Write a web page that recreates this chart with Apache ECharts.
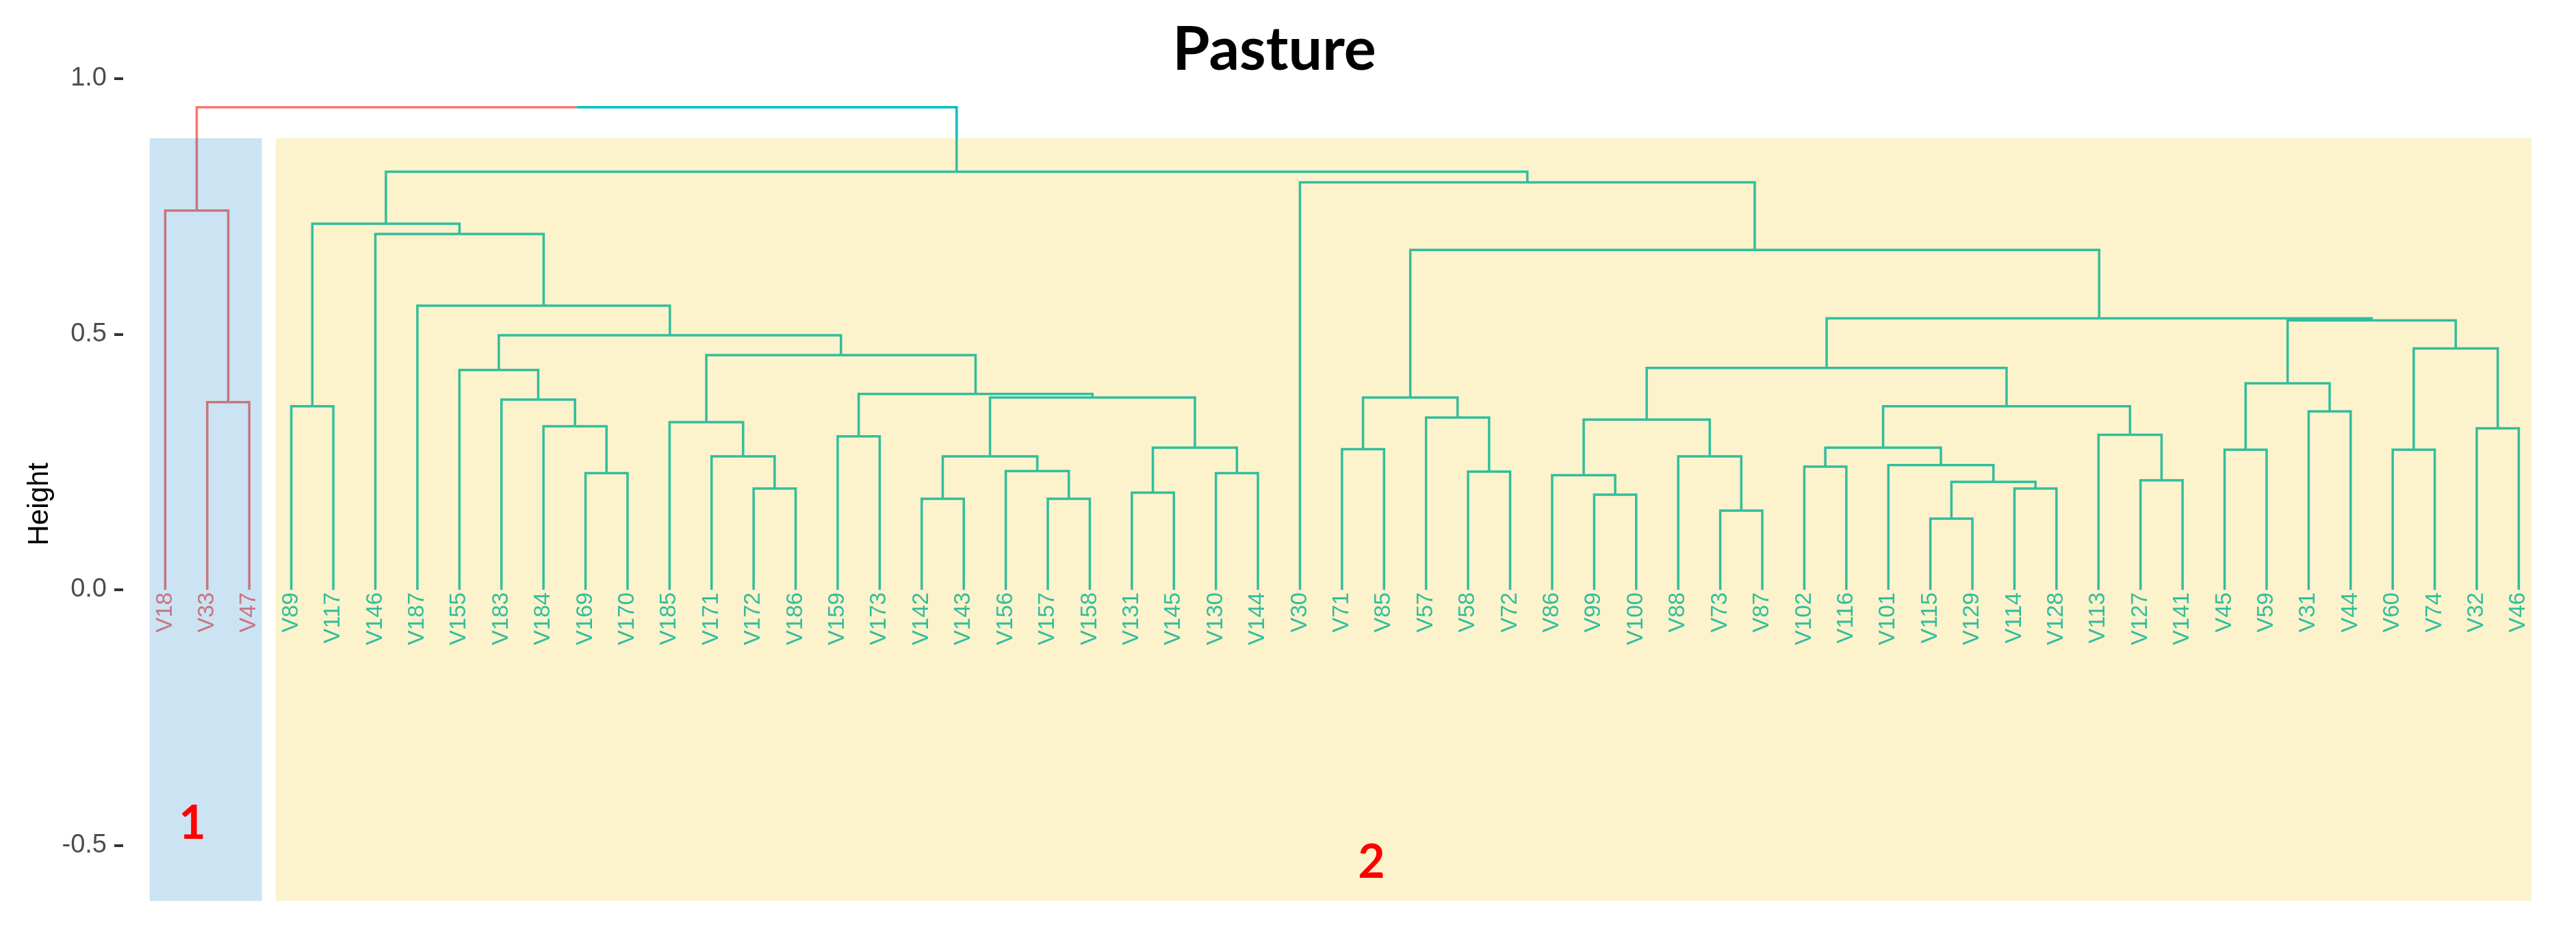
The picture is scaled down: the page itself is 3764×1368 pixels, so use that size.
<!DOCTYPE html>
<html><head><meta charset="utf-8">
<script src="https://cdn.jsdelivr.net/npm/echarts@6/dist/echarts.min.js"></script>
<style>html,body{margin:0;padding:0;background:#fff}#chart{width:3764px;height:1368px}</style>
</head><body><div id="chart"></div>
<script>
// ---- data ----
const leafLabels = ['V18','V33','V47','V89','V117','V146','V187','V155','V183','V184','V169','V170','V185','V171','V172','V186','V159','V173','V142','V143','V156','V157','V158','V131','V145','V130','V144','V30','V71','V85','V57','V58','V72','V86','V99','V100','V88','V73','V87','V102','V116','V101','V115','V129','V114','V128','V113','V127','V141','V45','V59','V31','V44','V60','V74','V32','V46'];
// hclust-style merges: negative = leaf index (1-based, in display order), positive = earlier merge row (1-based)
const mergeLeft  = [-2,-1,-4,-11,-10,-9,-8,-15,-14,-13,-17,-19,-22,-21,12,-24,-26,16,15,11,10,7,-7,-6,3,-29,-32,-31,26,-35,-34,-38,-37,31,-40,-43,-45,36,-42,35,-48,-47,40,34,-50,-52,45,-54,-56,48,47,44,29,-28,25,2];
const mergeRight = [-3,1,-5,-12,4,5,6,-16,8,9,-18,-20,-23,13,14,-25,-27,17,18,19,20,21,22,23,24,-30,-33,27,28,-36,30,-39,32,33,-41,-44,-46,37,38,39,-49,41,42,43,-51,-53,46,-55,-57,49,50,51,52,53,54,55];
const mergeHeight = [0.367,0.742,0.359,0.228,0.320,0.372,0.430,0.198,0.261,0.328,0.300,0.178,0.178,0.232,0.261,0.190,0.228,0.278,0.376,0.383,0.459,0.498,0.556,0.696,0.716,0.275,0.231,0.337,0.376,0.186,0.224,0.155,0.261,0.333,0.241,0.139,0.198,0.211,0.244,0.278,0.214,0.303,0.359,0.434,0.274,0.349,0.404,0.274,0.316,0.472,0.527,0.531,0.665,0.797,0.818,0.944];
const clusterSizes = [3, 54];
const clusterNames = ['1', '2'];
const yTicks = [-0.5, 0, 0.5, 1.0];

// ---- styles ----
const lineColors = ['#F8766D', '#00BFC4'];
const rectFills = ['rgba(0,115,194,0.2)', 'rgba(239,192,0,0.2)'];
const rectTop = 0.8835, rectBottom = -0.609, padL = 0.37, padR = 0.3;

// ---- derived ----
function leafCluster(i){ let acc = 0; for (let k = 0; k < clusterSizes.length; k++){ acc += clusterSizes[k]; if (i <= acc) return k; } return clusterSizes.length - 1; }
const nodeX = [], nodeCluster = [];
const childX = c => c < 0 ? -c : nodeX[c - 1];
const childH = c => c < 0 ? 0 : mergeHeight[c - 1];
const childC = c => c < 0 ? leafCluster(-c) : nodeCluster[c - 1];
const segData = [];
for (let m = 0; m < mergeHeight.length; m++) {
  const l = mergeLeft[m], r = mergeRight[m];
  const xl = childX(l), xr = childX(r);
  nodeX.push((xl + xr) / 2);
  const cl = childC(l), cr = childC(r);
  nodeCluster.push(cl === cr ? cl : -1);
  segData.push([xl, childH(l), xr, childH(r), mergeHeight[m], cl, cr]);
}
const labelData = leafLabels.map((t, i) => [i + 1, 0, leafCluster(i + 1)]);
const rectData = [];
let start = 1;
clusterSizes.forEach((s, k) => { rectData.push([start - padL, start + s - 1 + padR, k]); start += s; });

const chart = echarts.init(document.getElementById('chart'), null, {renderer: 'canvas'});
chart.setOption({
  backgroundColor: '#ffffff',
  animation: false,
  grid: {left: 180, right: 22.2, top: 115, bottom: 9.4},
  xAxis: {type: 'value', min: 0, max: 58, show: false},
  yAxis: {
    type: 'value', min: -0.665, max: 1.0,
    name: 'Height', nameLocation: 'middle', nameGap: 100, nameRotate: 90,
    nameTextStyle: {fontSize: 42, color: '#000', fontFamily: 'Liberation Sans'},
    axisLine: {show: false}, splitLine: {show: false},
    axisTick: {show: true, customValues: yTicks, length: 13, lineStyle: {color: '#333', width: 4}},
    axisLabel: {customValues: yTicks, formatter: v => Number(v).toFixed(1), fontSize: 38, color: '#4D4D4D', fontFamily: 'Liberation Sans', margin: 24}
  },
  series: [
    {
      type: 'custom', name: 'branches', z: 2, data: segData,
      encode: {x: [0, 2], y: [1, 3, 4]},
      renderItem: (params, api) => {
        const xl = api.value(0), hl = api.value(1), xr = api.value(2), hr = api.value(3), h = api.value(4);
        const cl = api.value(5), cr = api.value(6), xm = (xl + xr) / 2;
        const p = (x, y) => api.coord([x, y]);
        return {type: 'group', children: [
          {type: 'polyline', shape: {points: [p(xl, hl), p(xl, h), p(xm, h)]}, style: {stroke: lineColors[cl], lineWidth: 3.5, fill: null}},
          {type: 'polyline', shape: {points: [p(xm, h), p(xr, h), p(xr, hr)]}, style: {stroke: lineColors[cr], lineWidth: 3.5, fill: null}}
        ]};
      }
    },
    {
      type: 'custom', name: 'leaves', z: 2, data: labelData,
      encode: {x: 0, y: 1},
      renderItem: (params, api) => {
        const pt = api.coord([api.value(0), api.value(1)]);
        return {type: 'text', x: pt[0], y: pt[1] + 4, rotation: Math.PI / 2,
          style: {text: leafLabels[params.dataIndex], align: 'right', verticalAlign: 'middle',
            fill: lineColors[api.value(2)], font: '33px "Liberation Sans"'}};
      }
    },
    {
      type: 'custom', name: 'clusters', z: 5, data: rectData,
      encode: {x: [0, 1]},
      renderItem: (params, api) => {
        const a = api.coord([api.value(0), rectTop]);
        const b = api.coord([api.value(1), rectBottom]);
        return {type: 'rect', shape: {x: a[0], y: a[1], width: b[0] - a[0], height: b[1] - a[1]},
          style: {fill: rectFills[api.value(2)]}};
      }
    }
  ],
  graphic: [
    {type: 'text', x: 1862, y: 74, z: 10, style: {text: 'Pasture', font: 'bold 88px Lato', fill: '#000', align: 'center', verticalAlign: 'middle'}},
    {type: 'text', x: 281, y: 1204, z: 10, style: {text: clusterNames[0], font: 'bold 68px Lato', fill: '#FF0000', align: 'center', verticalAlign: 'middle'}},
    {type: 'text', x: 2004, y: 1261, z: 10, style: {text: clusterNames[1], font: 'bold 68px Lato', fill: '#FF0000', align: 'center', verticalAlign: 'middle'}}
  ]
});
</script></body></html>
